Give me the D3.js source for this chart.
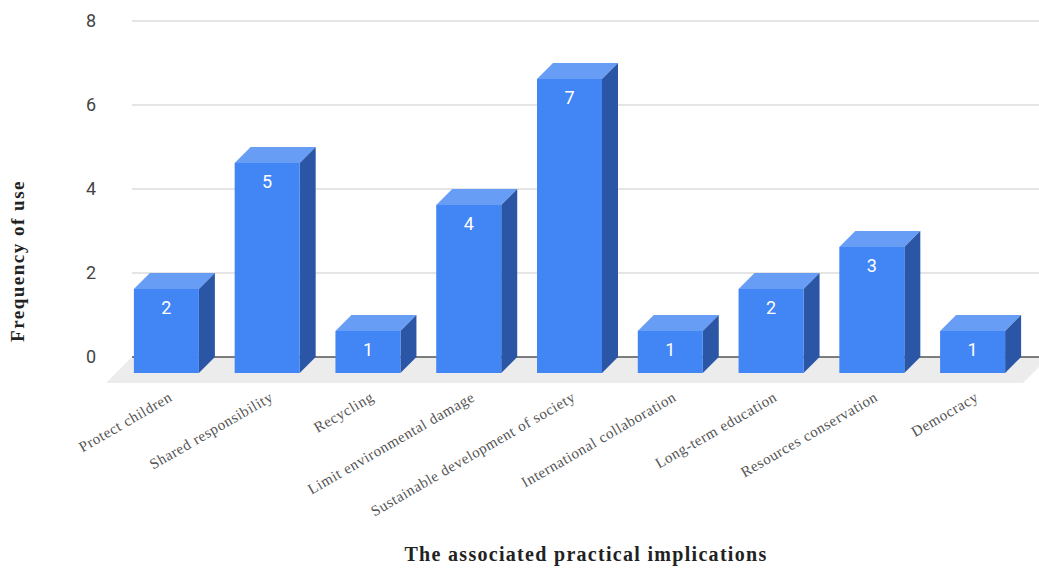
<!DOCTYPE html>
<html>
<head>
<meta charset="utf-8">
<script src="https://cdn.jsdelivr.net/npm/d3@7"></script>
<style>
  html, body { margin: 0; padding: 0; background: #fff; }
  svg { display: block; }
</style>
</head>
<body>
<svg id="chart" width="1039" height="569"></svg>
<script>
// Practical implications and how often each one is used
const categories = [
  "Protect children",
  "Shared responsibility",
  "Recycling",
  "Limit environmental damage",
  "Sustainable development of society",
  "International collaboration",
  "Long-term education",
  "Resources conservation",
  "Democracy"
];
const frequencies = [2, 5, 1, 4, 7, 1, 2, 3, 1];
const yTicks = [0, 2, 4, 6, 8];

const svg = d3.select("#chart");

// Back plane of the 3D box
const backLeft = 132, backRight = 1039;
const depth = 16;       // bar depth (projected offset)
const floorDepth = 26;  // floor depth

const x = d3.scaleBand()
  .domain(categories)
  .range([backLeft, backRight])
  .paddingInner(0.355)
  .paddingOuter(0.1775);

const y = d3.scaleLinear().domain([0, 8]).range([357, 21]);

const colors = { front: "#4285f4", top: "#689df6", side: "#2b56a6" };

// Floor
const y0 = y(0);
svg.append("path")
  .attr("d", d3.line()([
    [backLeft, y0], [backRight + 10, y0],
    [backRight + 10 - floorDepth, y0 + floorDepth],
    [backLeft - floorDepth, y0 + floorDepth]
  ]) + "Z")
  .attr("fill", "#ececec");

// Gridlines on the back wall
svg.append("g")
  .selectAll("line")
  .data(yTicks.filter(d => d !== 0))
  .join("line")
  .attr("x1", backLeft).attr("x2", backRight)
  .attr("y1", d => y(d)).attr("y2", d => y(d))
  .attr("stroke", "#dddddd").attr("stroke-width", 1.6);

// Baseline
svg.append("line")
  .attr("x1", backLeft).attr("x2", backRight)
  .attr("y1", y0).attr("y2", y0)
  .attr("stroke", "#555").attr("stroke-width", 1.6);

// Y axis tick labels
const yAxis = d3.axisLeft(y).tickValues(yTicks).tickSize(0).tickPadding(0);
const gy = svg.append("g").attr("transform", `translate(${96},0)`).call(yAxis);
gy.select(".domain").remove();
gy.selectAll("text")
  .attr("fill", "#444")
  .style("font-family", "Roboto, 'Noto Sans', sans-serif")
  .style("font-size", "18px");

// Bars as extruded boxes
const bw = x.bandwidth();
const bars = svg.append("g").selectAll("g")
  .data(categories.map((c, i) => ({ c, v: frequencies[i] })))
  .join("g");

bars.each(function (d) {
  const g = d3.select(this);
  const bx = x(d.c), by = y(d.v);
  // back face corners: (bx, by) .. (bx+bw, y0); front face shifted by (-depth, +depth)
  const fx = bx - depth, fy = by + depth, fb = y0 + depth;
  g.append("path")
    .attr("d", d3.line()([[fx, fy], [bx, by], [bx + bw, by], [fx + bw, fy]]) + "Z")
    .attr("fill", colors.top);
  g.append("path")
    .attr("d", d3.line()([[fx + bw, fy], [bx + bw, by], [bx + bw, y0], [fx + bw, fb]]) + "Z")
    .attr("fill", colors.side);
  g.append("rect")
    .attr("x", fx).attr("y", fy)
    .attr("width", bw).attr("height", fb - fy)
    .attr("fill", colors.front);
  g.append("text")
    .attr("x", fx + bw / 2).attr("y", fy + 20)
    .attr("text-anchor", "middle")
    .attr("dominant-baseline", "middle")
    .attr("fill", "#fff")
    .style("font-family", "Roboto, 'Noto Sans', sans-serif")
    .style("font-size", "18px")
    .text(d.v);
});

// Rotated category labels
svg.append("g").selectAll("text")
  .data(categories)
  .join("text")
  .attr("transform", d => `translate(${x(d) - depth + bw / 2 + 7},${400}) rotate(-30)`)
  .attr("text-anchor", "end")
  .attr("fill", "#555")
  .style("font-family", "'Liberation Serif', 'DejaVu Serif', serif")
  .style("font-size", "15px")
  .style("letter-spacing", "0.6px")
  .text(d => d);

// Axis titles
svg.append("text")
  .attr("transform", `translate(24,261) rotate(-90)`)
  .attr("text-anchor", "middle")
  .attr("fill", "#222")
  .style("font-family", "'Liberation Serif', 'DejaVu Serif', serif")
  .style("font-weight", "bold")
  .style("font-size", "19px")
  .style("letter-spacing", "1.5px")
  .text("Frequency of use");

svg.append("text")
  .attr("x", 586).attr("y", 561)
  .attr("text-anchor", "middle")
  .attr("fill", "#222")
  .style("font-family", "'Liberation Serif', 'DejaVu Serif', serif")
  .style("font-weight", "bold")
  .style("font-size", "20px")
  .style("letter-spacing", "1.3px")
  .text("The associated practical implications");
</script>
</body>
</html>
